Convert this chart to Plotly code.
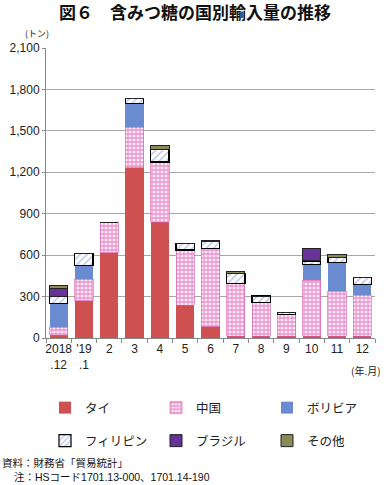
import plotly.graph_objects as go

categories = ["2018<br>.12", "'19<br>.1", "2", "3", "4", "5", "6", "7", "8", "9", "10", "11", "12"]
thai = [20, 270, 618, 1234, 838, 237, 82, 14, 14, 14, 14, 14, 14]
china = [57, 155, 220, 293, 437, 401, 568, 382, 242, 155, 406, 326, 295]
bolivia = [174, 102, 0, 173, 0, 0, 0, 0, 0, 0, 114, 208, 77]
philippines = [53, 87, 0, 37, 92, 48, 48, 73, 48, 17, 24, 37, 54]
brazil = [58, 0, 0, 0, 0, 0, 0, 0, 0, 0, 92, 0, 0]
other = [20, 0, 0, 0, 24, 0, 10, 14, 0, 0, 0, 21, 0]

FONT = "Arial, Liberation Sans, Noto Sans CJK JP, sans-serif"
JP = "Noto Sans CJK JP, sans-serif"

L, R, T, B = 46, 375, 48, 338
W, H = R - L, B - T
def px(x):
    return (x - L) / W
def py(y):
    return (B - y) / H

fig = go.Figure()
fig.add_bar(x=categories, y=thai, name="タイ", marker=dict(color="#cf5050", line=dict(width=0)), legend="legend")
fig.add_bar(x=categories, y=china, name="中国",
            marker=dict(color="white", line=dict(color="#d65aa8", width=0.6),
                        pattern=dict(shape="+", fgcolor="#d83aa4", bgcolor="#ffeef8", size=4, solidity=0.55)),
            legend="legend")
fig.add_bar(x=categories, y=bolivia, name="ボリビア", marker=dict(color="#6a8bd0", line=dict(width=0)), legend="legend")
fig.add_bar(x=categories, y=philippines, name="フィリピン",
            marker=dict(color="white", line=dict(color="black", width=1.2),
                        pattern=dict(shape="/", fgcolor="#7b8ad8", bgcolor="white", size=5, solidity=0.3)),
            legend="legend2")
fig.add_bar(x=categories, y=brazil, name="ブラジル", marker=dict(color="#673399", line=dict(color="#222", width=1)),
            legend="legend2")
fig.add_bar(x=categories, y=other, name="その他", marker=dict(color="#8c8a58", line=dict(color="#222", width=1)),
            legend="legend2")

leg_common = dict(orientation="h", xref="container", yref="container", xanchor="left", yanchor="middle",
                  entrywidth=66, entrywidthmode="pixels", itemwidth=30,
                  font=dict(size=12.5, family=JP, color="#222"),
                  bgcolor="rgba(0,0,0,0)", traceorder="normal")

fig.update_layout(
    width=384, height=485,
    margin=dict(l=L, r=384 - R, t=T, b=485 - B, autoexpand=False),
    barmode="stack", bargap=0.28,
    plot_bgcolor="white", paper_bgcolor="white",
    font=dict(family=FONT, size=12, color="#222"),
    title=dict(text="<b>図６　含みつ糖の国別輸入量の推移</b>", x=195/384, xanchor="center", y=1-13/485, yanchor="middle",
               font=dict(size=17, family=JP, color="#111")),
    legend=dict(x=45/384, y=1-408/485, **leg_common),
    legend2=dict(x=45/384, y=1-441/485, **leg_common),
    showlegend=True,
    xaxis=dict(showline=True, linecolor="#888", linewidth=1, ticks="outside", tickson="boundaries",
               ticklen=4, tickcolor="#888", tickfont=dict(size=12), tickangle=0, showgrid=False),
    yaxis=dict(range=[0, 2100], tickvals=[0, 300, 600, 900, 1200, 1500, 1800, 2100],
               ticktext=["0", "300", "600", "900", "1,200", "1,500", "1,800", "2,100"],
               showline=True, linecolor="#888", linewidth=1, showgrid=True, gridcolor="#a8a8a8", gridwidth=1,
               ticks="outside", ticklen=3, tickcolor="#888", tickfont=dict(size=12), zeroline=False),
    annotations=[
        dict(text="(トン)", xref="paper", yref="paper", x=px(37), y=py(34), xanchor="center", yanchor="middle",
             showarrow=False, font=dict(size=9, family=JP)),
        dict(text="(年.月)", xref="paper", yref="paper", x=px(383), y=py(370), xanchor="right", yanchor="middle",
             showarrow=False, font=dict(size=10, family=JP)),
        dict(text="資料：財務省「貿易統計」", xref="paper", yref="paper", x=px(0), y=py(463),
             xanchor="left", yanchor="middle", showarrow=False,
             font=dict(size=10.5, family=JP, color="#111")),
        dict(text="注：HSコード1701.13-000、1701.14-190", xref="paper", yref="paper", x=px(12), y=py(477),
             xanchor="left", yanchor="middle", showarrow=False,
             font=dict(size=10.5, family=FONT, color="#111")),
    ],
)

fig.write_html("out.html", config={"displayModeBar": False},
               post_script="document.body.style.margin='0px';")
